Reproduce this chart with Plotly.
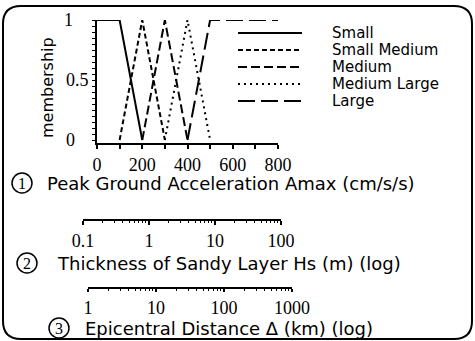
import plotly.graph_objects as go

W, H = 475, 341

# ---------------- data ----------------
series_names = ["Small", "Small Medium", "Medium", "Medium Large", "Large"]
small_x = [0, 100, 200]
small_y = [1, 1, 0]
small_medium_x = [100, 200, 300]
small_medium_y = [0, 1, 0]
medium_x = [200, 300, 400]
medium_y = [0, 1, 0]
medium_large_x = [300, 400, 500]
medium_large_y = [0, 1, 0]
large_x = [400, 500, 800]
large_y = [0, 1, 1]

acc_ticks = [0, 100, 200, 300, 400, 500, 600, 700, 800]
acc_ticktext = ["0", "", "200", "", "400", "", "600", "", "800"]
mem_labels = ["0", "0.5", "1"]
mem_vals = [0, 0.5, 1]

hs_ticks = [0.1, 1, 10, 100]
hs_ticktext = ["0.1", "1", "10", "100"]
dist_ticks = [1, 10, 100, 1000]
dist_ticktext = ["1", "10", "100", "1000"]

label1 = "Peak Ground Acceleration Amax (cm/s/s)"
label2 = "Thickness of Sandy Layer Hs (m) (log)"
label3 = "Epicentral Distance \u0394 (km) (log)"

# ---------------- helpers ----------------
def px(x):
    return x / W

def py(y):
    return 1 - y / H

SANS = "DejaVu Sans"
SERIF = "Liberation Serif"
dashes = ["solid", "5px,3px", "9px,4px", "2px,4px", "17px,6px"]
xs = [small_x, small_medium_x, medium_x, medium_large_x, large_x]
ys = [small_y, small_medium_y, medium_y, medium_large_y, large_y]

fig = go.Figure()
for name, x, y, d in zip(series_names, xs, ys, dashes):
    fig.add_trace(go.Scatter(x=x, y=y, mode="lines", name=name, showlegend=False,
                             line=dict(color="black", width=2, dash=d), hoverinfo="skip"))

# invisible traces to hold the log axes
fig.add_trace(go.Scatter(x=[hs_ticks[0], hs_ticks[-1]], y=[0, 0], xaxis="x2", yaxis="y2",
                         mode="lines", line=dict(width=0), showlegend=False, hoverinfo="skip"))
fig.add_trace(go.Scatter(x=[dist_ticks[0], dist_ticks[-1]], y=[0, 0], xaxis="x3", yaxis="y3",
                         mode="lines", line=dict(width=0), showlegend=False, hoverinfo="skip"))

minor_hs = [m * 10 ** e for e in range(-1, 2) for m in range(2, 10)]
minor_dist = [m * 10 ** e for e in range(0, 3) for m in range(2, 10)]

tickfont = dict(family=SERIF, size=18, color="black")

fig.update_layout(
    template="none",
    width=W, height=H,
    margin=dict(l=0, r=0, t=0, b=0, pad=0, autoexpand=False),
    paper_bgcolor="white", plot_bgcolor="white",
    showlegend=False,
    xaxis=dict(domain=[px(97), px(278)], range=[0, 800], showline=True, linewidth=2,
               linecolor="black", ticks="outside", ticklen=4, tickwidth=2, tickcolor="black",
               tickvals=acc_ticks, ticktext=acc_ticktext, tickfont=tickfont, automargin=False,
               showgrid=False, zeroline=False, anchor="y"),
    yaxis=dict(domain=[py(143), py(20)], range=[-0.025, 1.0], showline=True, linewidth=2,
               linecolor="black", ticks="outside", ticklen=3, tickwidth=1, tickcolor="black",
               tickmode="linear", tick0=0, dtick=0.05, showticklabels=False, automargin=False,
               showgrid=False, zeroline=False, anchor="x"),
    xaxis2=dict(domain=[px(83), px(281)], type="log", range=[-1, 2], showline=True,
                linewidth=2, linecolor="black", ticks="outside", ticklen=4, tickwidth=2,
                tickcolor="black", tickvals=hs_ticks, ticktext=hs_ticktext, tickfont=tickfont,
                minor=dict(tickvals=minor_hs, ticks="outside", ticklen=2, tickwidth=1,
                           tickcolor="black"), automargin=False,
                showgrid=False, zeroline=False, anchor="y2"),
    yaxis2=dict(domain=[py(219), py(217)], visible=False, anchor="x2", automargin=False),
    xaxis3=dict(domain=[px(88), px(292)], type="log", range=[0, 3], showline=True,
                linewidth=2, linecolor="black", ticks="outside", ticklen=3, tickwidth=2,
                tickcolor="black", tickvals=dist_ticks, ticktext=dist_ticktext, tickfont=tickfont,
                minor=dict(tickvals=minor_dist, ticks="outside", ticklen=2, tickwidth=1,
                           tickcolor="black"), automargin=False,
                showgrid=False, zeroline=False, anchor="y3"),
    yaxis3=dict(domain=[py(287), py(285)], visible=False, anchor="x3", automargin=False),
)

annotations = []
# y tick labels
for lab, v, xx in zip(mem_labels, mem_vals, [70, 77, 68]):
    annotations.append(dict(text=lab, x=px(xx), y=py(140 - 120 * v),
                            xref="paper", yref="paper", showarrow=False,
                            font=tickfont, xanchor="center", yanchor="middle"))
annotations.append(dict(text="membership", x=px(47), y=py(88), xref="paper", yref="paper",
                        showarrow=False, textangle=-90, font=dict(family=SANS, size=16, color="black"),
                        xanchor="center", yanchor="middle"))

# legend (manual)
leg_rows = [33, 50, 67, 84, 101]
shapes = []
for name, d, ry in zip(series_names, dashes, leg_rows):
    shapes.append(dict(type="line", xref="paper", yref="paper", x0=px(238), x1=px(302),
                       y0=py(ry), y1=py(ry), line=dict(color="black", width=2, dash=d)))
    annotations.append(dict(text=name, x=px(330), y=py(ry), xref="paper", yref="paper",
                            showarrow=False, xanchor="left", yanchor="middle",
                            font=dict(family=SANS, size=15, color="black")))

# axis labels with circled numbers
for num, cx, cy, lab, lx in [("1", 22, 183, label1, 45), ("2", 27, 263, label2, 55),
                              ("3", 59, 328, label3, 83)]:
    r = 10
    shapes.append(dict(type="circle", xref="paper", yref="paper", x0=px(cx - r), x1=px(cx + r),
                       y0=py(cy + r), y1=py(cy - r), line=dict(color="black", width=1.5)))
    annotations.append(dict(text=num, x=px(cx), y=py(cy), xref="paper", yref="paper",
                            showarrow=False, xanchor="center", yanchor="middle",
                            font=dict(family=SERIF, size=16, color="black")))
    annotations.append(dict(text=lab, x=px(lx), y=py(cy), xref="paper", yref="paper",
                            showarrow=False, xanchor="left", yanchor="middle",
                            font=dict(family=SANS, size=18, color="black")))

# rounded frame
L, R, T, B, rr = 3, 472, 6, 339, 18
def P(x, y):
    return f"{px(x):.5f},{py(y):.5f}"
path = (f"M {P(L + rr, T)} L {P(R - rr, T)} Q {P(R, T)} {P(R, T + rr)} "
        f"L {P(R, B - rr)} Q {P(R, B)} {P(R - rr, B)} L {P(L + rr, B)} "
        f"Q {P(L, B)} {P(L, B - rr)} L {P(L, T + rr)} Q {P(L, T)} {P(L + rr, T)} Z")
shapes.append(dict(type="path", xref="paper", yref="paper", path=path,
                   line=dict(color="black", width=2)))

fig.update_layout(annotations=annotations, shapes=shapes)
fig.write_html("out.html", config={"displayModeBar": False},
               post_script="document.body.style.margin='0';document.body.style.padding='0';"
                           "document.documentElement.style.overflow='hidden';")
